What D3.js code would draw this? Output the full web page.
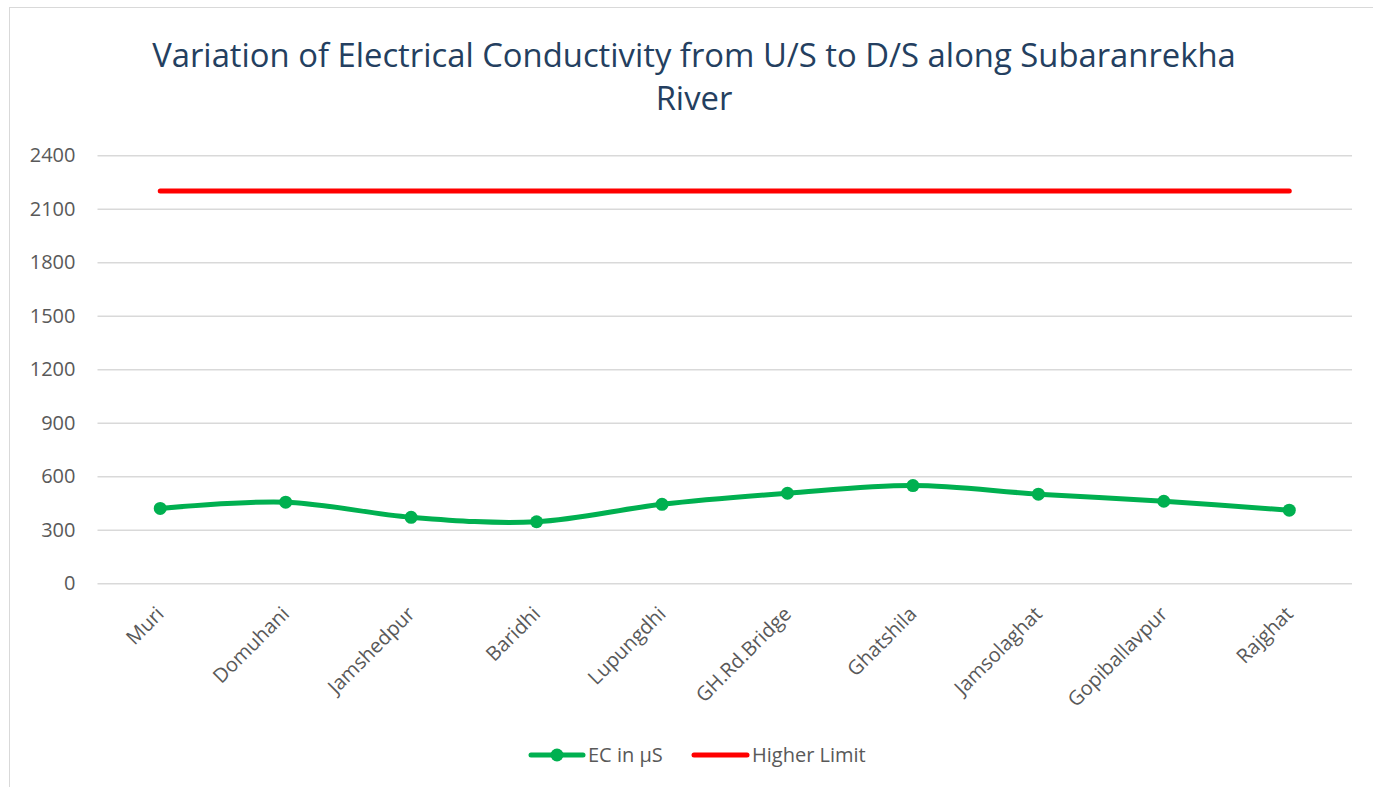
<!DOCTYPE html>
<html>
<head>
<meta charset="utf-8">
<script src="https://cdn.jsdelivr.net/npm/d3@7"></script>
<style>
  body { margin: 0; background: #fff; }
  svg { display: block; font-family: "Open Sans", sans-serif; }
</style>
</head>
<body>
<div id="chart"></div>
<script>
var stations = ['Muri', 'Domuhani', 'Jamshedpur', 'Baridhi', 'Lupungdhi',
                'GH.Rd.Bridge', 'Ghatshila', 'Jamsolaghat', 'Gopiballavpur', 'Rajghat'];
var ecValues = [420, 455, 370, 345, 443, 505, 548, 500, 460, 410];
var higherLimit = [2200, 2200, 2200, 2200, 2200, 2200, 2200, 2200, 2200, 2200];
var yTicks = [0, 300, 600, 900, 1200, 1500, 1800, 2100, 2400];
var titleLines = ['Variation of Electrical Conductivity from U/S to D/S along Subaranrekha', 'River'];
var seriesNames = ['EC in \u00b5S', 'Higher Limit'];

(function(){
    var W = 1373, H = 787;
    var margin = {top: 155.3, right: 21, bottom: 203.7, left: 97.5};
    var width = W - margin.left - margin.right;
    var height = H - margin.top - margin.bottom;
    var green = '#00b050', red = '#ff0000', grey = '#595959';

    var svg = d3.select('#chart').append('svg').attr('width', W).attr('height', H);

    // chart frame (runs off the right and bottom edges)
    svg.append('rect').attr('x', 9.5).attr('y', 7.5).attr('width', 1400).attr('height', 800)
        .style('fill', '#fff').style('stroke', '#d9d9d9').style('stroke-width', 1);

    // title
    svg.selectAll('text.title').data(titleLines).enter().append('text')
        .attr('class', 'title')
        .attr('x', 694)
        .attr('y', function(d, i) { return 67 + i * 43; })
        .attr('text-anchor', 'middle')
        .style('font-size', '32.8px')
        .style('fill', '#243f60')
        .text(function(d) { return d; });

    var x = d3.scaleBand().domain(stations).range([0, width]);
    var y = d3.scaleLinear().domain([0, 2400]).range([height, 0]);
    var cx = function(d, i) { return x(stations[i]) + x.bandwidth() / 2; };

    var g = svg.append('g').attr('transform', 'translate(' + margin.left + ',' + margin.top + ')');

    // grid
    var yAxis = g.append('g')
        .call(d3.axisLeft(y).tickValues(yTicks).tickFormat(d3.format('d')).tickSize(-width).tickPadding(22));
    yAxis.select('.domain').remove();
    yAxis.selectAll('.tick line').style('stroke', '#d9d9d9').style('stroke-width', 1.5);
    yAxis.selectAll('.tick text').style('font-size', '20px').style('fill', grey)
        .style('font-family', '"Open Sans", sans-serif');

    // category labels
    var xAxis = g.append('g').attr('transform', 'translate(0,' + height + ')')
        .call(d3.axisBottom(x).tickSize(0).tickPadding(0));
    xAxis.select('.domain').remove();
    xAxis.selectAll('.tick text')
        .style('font-size', '20px').style('fill', grey)
        .style('font-family', '"Open Sans", sans-serif')
        .attr('text-anchor', 'end')
        .attr('dy', '0.35em')
        .attr('transform', 'translate(0,27) rotate(-45)');

    // higher limit
    var limitLine = d3.line().x(cx).y(function(d) { return y(d); });
    g.append('path').datum(higherLimit)
        .attr('d', limitLine)
        .style('fill', 'none').style('stroke', red)
        .style('stroke-width', 5).style('stroke-linecap', 'round');

    // EC series
    var ecLine = d3.line().x(cx).y(function(d) { return y(d); }).curve(d3.curveCatmullRom.alpha(0.5));
    g.append('path').datum(ecValues)
        .attr('d', ecLine)
        .style('fill', 'none').style('stroke', green)
        .style('stroke-width', 5).style('stroke-linecap', 'round');
    g.selectAll('circle.pt').data(ecValues).enter().append('circle')
        .attr('class', 'pt')
        .attr('cx', cx)
        .attr('cy', function(d) { return y(d); })
        .attr('r', 6.5)
        .style('fill', green);

    // legend
    var legend = svg.append('g').attr('transform', 'translate(0,755)');
    legend.append('line').attr('x1', 531).attr('x2', 583).attr('y1', 0).attr('y2', 0)
        .style('stroke', green).style('stroke-width', 5).style('stroke-linecap', 'round');
    legend.append('circle').attr('cx', 557).attr('cy', 0).attr('r', 6.5).style('fill', green);
    legend.append('text').attr('x', 588).attr('y', 0).attr('dy', '0.35em')
        .style('font-size', '20px').style('fill', grey).text(seriesNames[0]);
    legend.append('line').attr('x1', 694).attr('x2', 747).attr('y1', 0).attr('y2', 0)
        .style('stroke', red).style('stroke-width', 5).style('stroke-linecap', 'round');
    legend.append('text').attr('x', 752).attr('y', 0).attr('dy', '0.35em')
        .style('font-size', '20px').style('fill', grey).text(seriesNames[1]);
})();
</script>
</body>
</html>
